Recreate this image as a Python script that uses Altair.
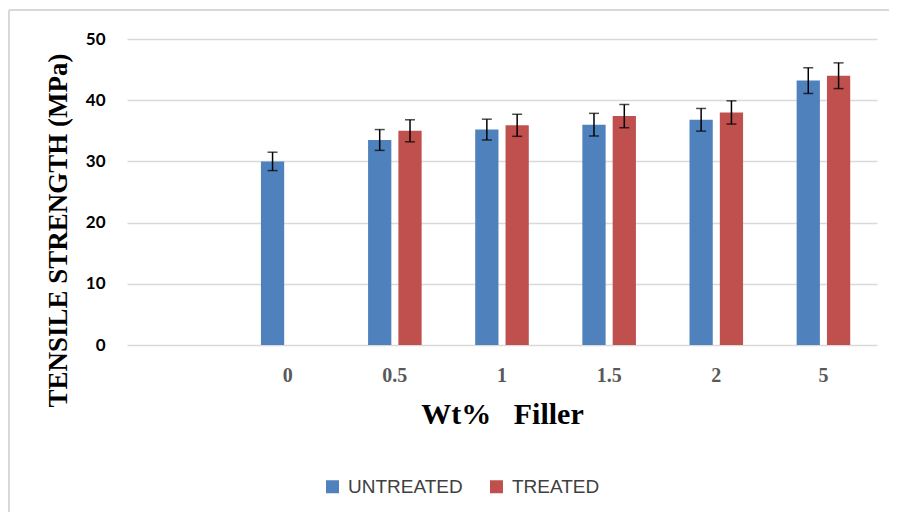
import altair as alt
import pandas as pd

# ---- data ----
categories = ["", "0", "0.5", "1", "1.5", "2", "5"]   # first slot is an empty category
filler = ["0", "0.5", "1", "1.5", "2", "5"]
untreated = [30.0, 33.5, 35.2, 36.0, 36.8, 43.2]
untreated_err = [1.5, 1.7, 1.7, 1.85, 1.85, 2.1]
treated_filler = ["0.5", "1", "1.5", "2", "5"]
treated = [35.0, 35.9, 37.4, 38.0, 44.0]
treated_err = [1.8, 1.8, 1.9, 1.9, 2.1]
series = ["UNTREATED", "TREATED"]
colors = ["#4F81BD", "#C0504D"]

rows = []
for f, v, e in zip(filler, untreated, untreated_err):
    rows.append({"filler": f, "series": "UNTREATED", "value": v, "lo": v - e, "hi": v + e})
for f, v, e in zip(treated_filler, treated, treated_err):
    rows.append({"filler": f, "series": "TREATED", "value": v, "lo": v - e, "hi": v + e})
df = pd.DataFrame(rows)

x_enc = alt.X(
    "filler:N",
    scale=alt.Scale(domain=categories, paddingInner=0.5, paddingOuter=0.25),
    axis=alt.Axis(
        title="Wt%\u00a0\u00a0\u00a0Filler",
        titleFont="Liberation Serif", titleFontSize=30, titleFontWeight="bold",
        titleColor="#000000", titleBaseline="alphabetic", titleY=78,
        labelFont="Liberation Serif", labelFontSize=20, labelFontWeight="bold",
        labelColor="#595959", labelPadding=20, labelAngle=0,
        ticks=False, domain=False, grid=False,
    ),
)
xoff = alt.XOffset("series:N", scale=alt.Scale(domain=series, paddingInner=0.233, paddingOuter=0))

y_axis = alt.Axis(
    title="TENSILE STRENGTH (MPa)",
    titleFont="Liberation Serif", titleFontSize=27, titleFontWeight="bold",
    titleColor="#000000", titleBaseline="alphabetic", titleAlign="center",
    titleX=-61, titleY=191, titleAngle=270,
    labelFont="Lato", labelFontSize=17, labelFontWeight="bold", labelColor="#000000",
    labelPadding=22, values=[0, 10, 20, 30, 40, 50],
    ticks=False, domain=False, grid=True, gridColor="#d9d9d9", gridWidth=1.3,
)
y_scale = alt.Scale(domain=[0, 50], nice=False)

base = alt.Chart(df)

bars = base.mark_bar().encode(
    x=x_enc,
    xOffset=xoff,
    y=alt.Y("value:Q", scale=y_scale, axis=y_axis),
    color=alt.Color(
        "series:N",
        scale=alt.Scale(domain=series, range=colors),
        legend=alt.Legend(
            title=None, orient="none", direction="horizontal",
            legendX=196, legendY=438, padding=0,
            symbolType="square", symbolSize=169, symbolStrokeWidth=0,
            labelFont="Liberation Sans", labelFontSize=19, labelColor="#404040",
            labelOffset=6, columnPadding=24,
        ),
    ),
)

err = base.mark_rule(color="#000000", strokeWidth=1.5).encode(
    x="filler:N", xOffset="series:N", y="lo:Q", y2="hi:Q"
)

caps = base.transform_fold(["lo", "hi"], as_=["end", "ev"]).mark_tick(
    color="#000000", thickness=1.5, size=10
).encode(x="filler:N", xOffset="series:N", y="ev:Q")

# outer frame of the figure (top and left edges visible in the reference)
frame_top = alt.Chart(pd.DataFrame({"k": [0]})).mark_rule(color="#d9d9d9", strokeWidth=2).encode(
    x=alt.value(-118), x2=alt.value(770), y=alt.value(-29)
)
frame_left = alt.Chart(pd.DataFrame({"k": [0]})).mark_rule(color="#d9d9d9", strokeWidth=2).encode(
    x=alt.value(-118), y=alt.value(-29), y2=alt.value(481)
)

chart = alt.layer(bars, err, caps, frame_top, frame_left).properties(
    width=750, height=306,
    autosize=alt.AutoSizeParams(type="none"),
    padding={"left": 119, "top": 31, "right": 12, "bottom": 167},
    background="#ffffff",
).configure_view(stroke=None)

chart.save("out.html", embed_options={"renderer": "svg", "actions": False})
